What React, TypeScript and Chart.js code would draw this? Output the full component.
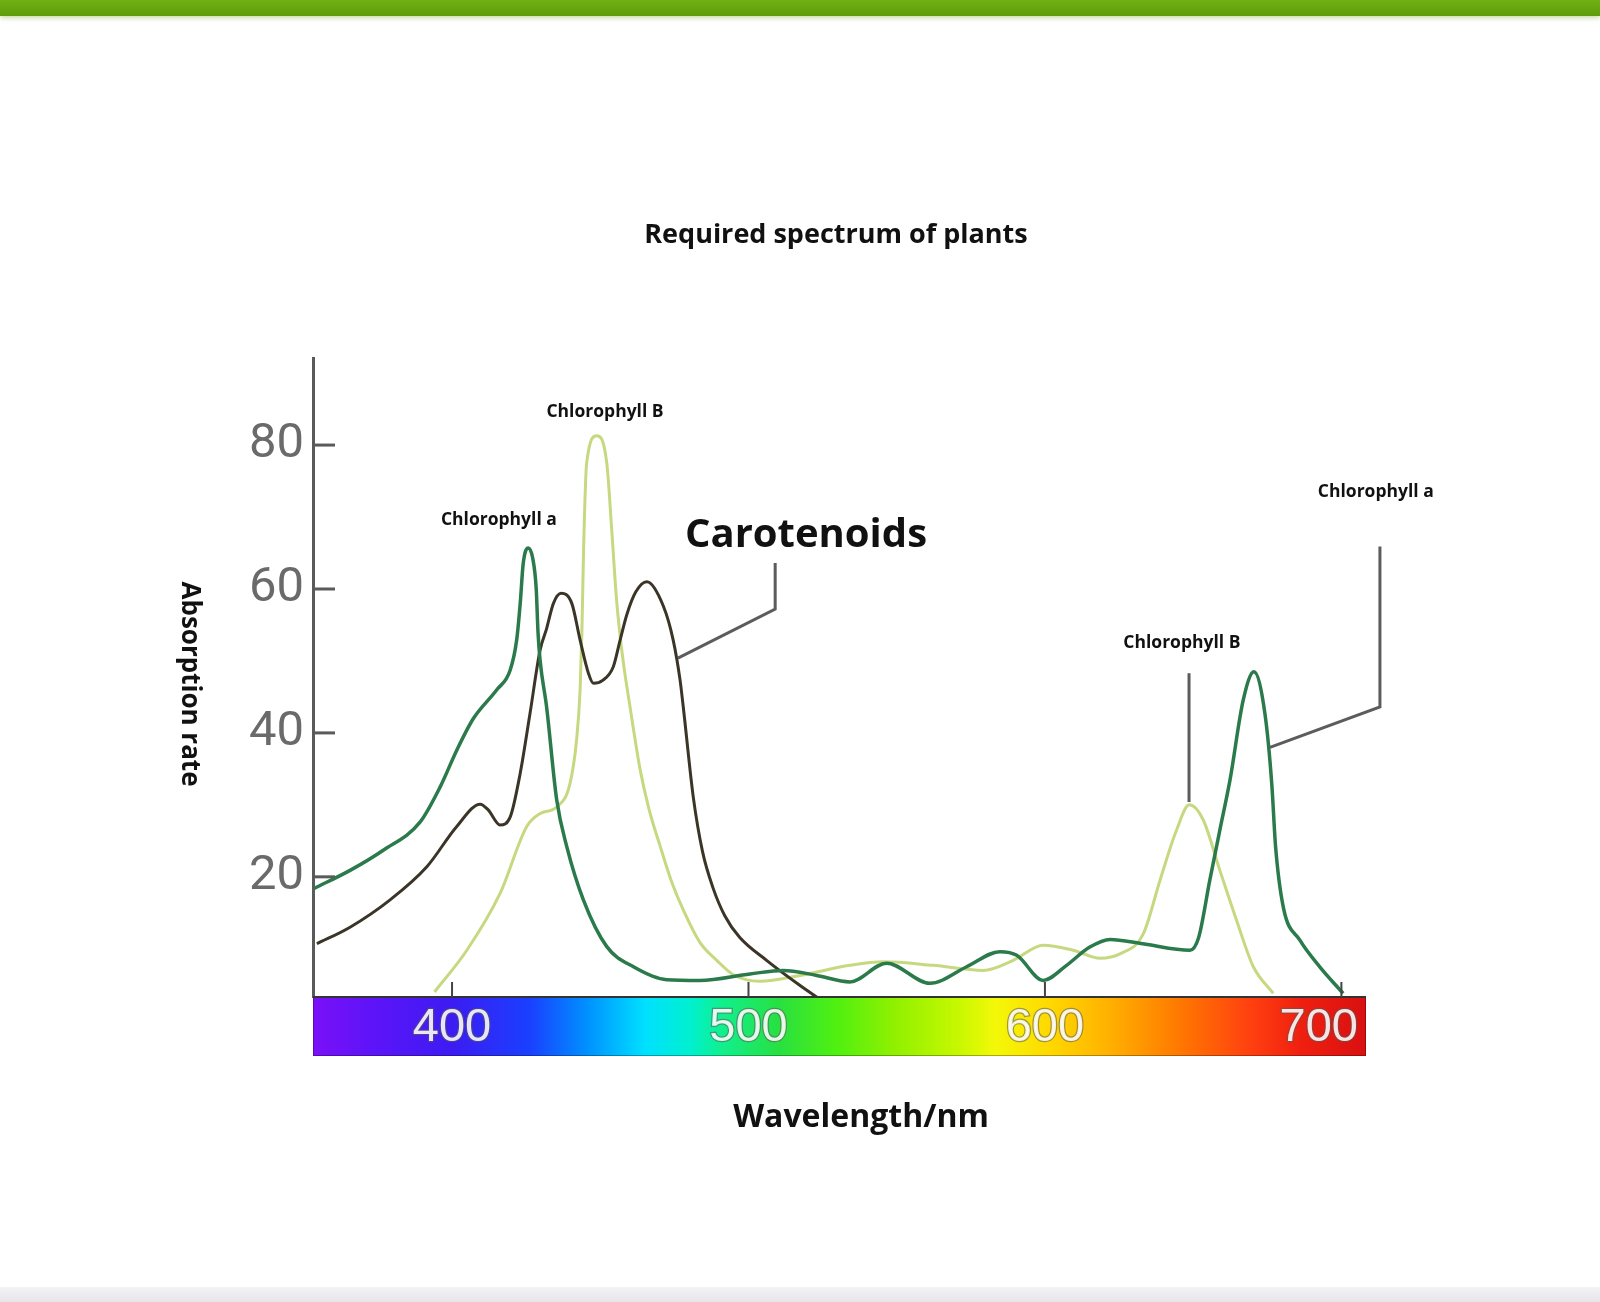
import React, { useEffect, useRef } from 'react'
import { Chart, registerables, ChartConfiguration, Plugin } from 'chart.js'

Chart.register(...registerables)

// Absorption curves: wavelength (nm) and absorption rate
const chlAWavelengths = [353.5, 365.6, 376.8, 389.2, 396.0, 401.6, 407.2, 415.1, 419.6, 421.8, 423.0, 424.0, 425.7, 427.2, 428.4, 429.0, 429.7, 431.9, 435.3, 438.7, 444.3, 452.2, 461.2, 472.4, 483.6, 500.5, 511.7, 523.0, 534.2, 546.6, 561.2, 573.6, 584.8, 590.5, 599.4, 607.3, 615.0, 622.0, 633.0, 648.9, 651.8, 655.6, 659.0, 662.4, 666.9, 670.5, 674.2, 676.5, 677.8, 680.4, 686.0, 692.7, 700.6]
const chlAValues = [18.4, 20.9, 23.7, 27.6, 32.5, 37.6, 42.0, 46.0, 48.7, 52.9, 58.0, 63.5, 65.7, 64.3, 60.0, 54.0, 50.1, 43.6, 30.7, 24.2, 16.8, 10.3, 7.5, 5.7, 5.6, 6.5, 7.0, 6.3, 5.4, 8.0, 5.2, 7.5, 9.6, 9.1, 5.6, 7.7, 10.2, 11.3, 10.7, 9.8, 11.5, 19.5, 26.5, 33.4, 44.6, 48.5, 42.7, 33.0, 24.2, 15.8, 11.2, 7.5, 3.8]

const carotWavelengths = [354.4, 365.6, 379.1, 391.5, 401.6, 409.5, 412.2, 416.2, 419.6, 423.0, 426.3, 429.7, 431.9, 434.2, 436.8, 440.4, 443.2, 446.0, 447.7, 450.8, 454.4, 456.7, 459.0, 462.0, 465.7, 471.3, 474.6, 476.9, 478.0, 481.4, 484.5, 488.0, 492.0, 497.0, 506.1, 517.4, 523.0]
const carotValues = [10.7, 13.0, 16.8, 21.4, 27.0, 30.1, 29.3, 27.2, 28.3, 34.4, 42.7, 51.5, 54.5, 58.0, 59.4, 58.0, 52.9, 48.3, 46.9, 47.3, 49.2, 52.9, 56.5, 59.6, 61.0, 57.6, 52.9, 47.4, 43.6, 31.0, 23.5, 18.5, 14.6, 11.6, 8.4, 4.9, 3.3]

const chlBWavelengths = [394.1, 405.0, 416.2, 425.2, 429.7, 435.3, 439.8, 442.0, 443.2, 443.8, 444.4, 445.4, 448.8, 452.2, 453.9, 455.5, 457.4, 460.2, 463.4, 466.5, 470.1, 474.0, 478.0, 483.6, 489.3, 494.9, 503.9, 517.4, 534.2, 545.5, 562.3, 579.2, 589.3, 599.4, 609.5, 618.6, 625.3, 633.2, 638.8, 644.4, 648.7, 653.4, 659.0, 664.6, 670.3, 677.0]
const chlBValues = [4.0, 9.8, 17.7, 27.0, 28.8, 29.7, 33.0, 39.0, 46.0, 54.0, 66.0, 77.5, 81.3, 77.5, 68.0, 58.5, 51.0, 43.2, 35.0, 29.3, 24.4, 19.4, 15.4, 10.9, 8.4, 6.4, 5.5, 6.3, 7.7, 8.2, 7.7, 7.0, 8.4, 10.5, 9.8, 8.7, 9.3, 12.1, 19.5, 26.5, 30.0, 27.9, 20.9, 14.0, 7.5, 3.8]

const seriesNames = ['Chlorophyll a', 'Carotenoids', 'Chlorophyll B']
const seriesColors = ['#2b7a4b', '#3b3528', '#c6d880']

const xTickValues = [400, 500, 600, 700]
const yTickValues = [20, 40, 60, 80]
const xRange = [353.1, 708.3]
const yRange = [3.3, 92.1]

// Callout texts, anchored in data units (wavelength, absorption)
const calloutTexts = ['Chlorophyll B', 'Chlorophyll a', 'Carotenoids', 'Chlorophyll B', 'Chlorophyll a']
const calloutAnchors = [[451.6, 83.9], [415.8, 68.9], [519.4, 65.9], [646.2, 51.8], [711.6, 72.8]]
const calloutSizes = [17.5, 17.5, 40, 17.5, 17.5]
const calloutLeaders = [
    [],
    [],
    [[509.0, 63.6], [509.0, 57.2], [476.2, 50.4]],
    [[648.6, 48.3], [648.6, 30.4]],
    [[713.0, 65.9], [713.0, 43.6], [675.9, 38.0]]
]

const spectrumStops: Array<[number, string]> = [
    [0, '#7a10f8'], [0.06, '#5c14f8'], [0.133, '#3c1cf2'], [0.206, '#1a40ff'], [0.26, '#0090ff'],
    [0.315, '#00e0ff'], [0.358, '#00f0d0'], [0.387, '#10f090'], [0.443, '#28e040'], [0.497, '#50f010'],
    [0.552, '#90f000'], [0.614, '#c8f800'], [0.648, '#f4f808'], [0.70, '#ffd800'], [0.757, '#ffb000'],
    [0.823, '#ff7800'], [0.89, '#ff4010'], [0.937, '#f02010'], [1, '#d81010']
]

const TEXT_FONT = '"Open Sans", "DejaVu Sans", sans-serif'
const CHART_TITLE = 'Required spectrum of plants'

const decorPlugin: Plugin<'line'> = {
    id: 'decor',
    afterDraw(chart) {
        const { ctx, chartArea } = chart
        const xs = chart.scales.x
        const ys = chart.scales.y
        const barTop = chartArea.bottom
        const barBottom = chartArea.bottom + xs.height
        ctx.save()

        // spectrum strip under the plot
        const grad = ctx.createLinearGradient(chartArea.left, 0, chartArea.right, 0)
        spectrumStops.forEach(([f, c]) => grad.addColorStop(f, c))
        ctx.fillStyle = grad
        ctx.fillRect(chartArea.left, barTop, chartArea.right - chartArea.left, barBottom - barTop)
        ctx.strokeStyle = 'rgba(0,0,0,0.3)'
        ctx.lineWidth = 1
        ctx.strokeRect(chartArea.left + 0.5, barTop + 0.5, chartArea.right - chartArea.left - 1, barBottom - barTop - 1)
        ctx.strokeStyle = '#333'
        ctx.lineWidth = 2
        ctx.beginPath()
        ctx.moveTo(chartArea.left, barTop)
        ctx.lineTo(chartArea.right, barTop)
        ctx.stroke()

        // x ticks and labels
        ctx.font = '47px "Liberation Sans", Arial, sans-serif'
        ctx.textAlign = 'center'
        ctx.textBaseline = 'middle'
        xTickValues.forEach(v => {
            const px = xs.getPixelForValue(v)
            ctx.strokeStyle = '#444'
            ctx.lineWidth = 2
            ctx.beginPath()
            ctx.moveTo(px, barTop)
            ctx.lineTo(px, barTop - 15)
            ctx.stroke()
            const label = String(v)
            const w = ctx.measureText(label).width
            const cx = Math.min(px, chartArea.right - 8 - w / 2)
            const cy = (barTop + barBottom) / 2 + 2
            ctx.lineWidth = 2.5
            ctx.strokeStyle = 'rgba(90,90,90,0.55)'
            ctx.strokeText(label, cx, cy)
            ctx.fillStyle = 'rgba(255,255,255,0.88)'
            ctx.fillText(label, cx, cy)
        })

        // y ticks pointing into the plot
        ctx.strokeStyle = '#5a5a5a'
        ctx.lineWidth = 3
        yTickValues.forEach(v => {
            const py = ys.getPixelForValue(v)
            ctx.beginPath()
            ctx.moveTo(chartArea.left, py)
            ctx.lineTo(chartArea.left + 22, py)
            ctx.stroke()
        })

        // callouts
        ctx.fillStyle = '#111'
        ctx.textAlign = 'center'
        ctx.textBaseline = 'alphabetic'
        calloutTexts.forEach((t, i) => {
            const [wx, wy] = calloutAnchors[i]
            ctx.font = `bold ${calloutSizes[i]}px ${TEXT_FONT}`
            ctx.fillText(t, xs.getPixelForValue(wx), ys.getPixelForValue(wy))
            const pts = calloutLeaders[i]
            if (pts.length) {
                ctx.strokeStyle = '#5c5c5c'
                ctx.lineWidth = 3
                ctx.beginPath()
                pts.forEach(([px, py], k) => {
                    const X = xs.getPixelForValue(px)
                    const Y = ys.getPixelForValue(py)
                    if (k === 0) ctx.moveTo(X, Y)
                    else ctx.lineTo(X, Y)
                })
                ctx.stroke()
            }
        })

        // chart title and axis titles
        ctx.fillStyle = '#111'
        ctx.font = `bold 27px ${TEXT_FONT}`
        ctx.fillText(CHART_TITLE, 836, 243)

        ctx.font = `bold 32px ${TEXT_FONT}`
        ctx.fillText('Wavelength/nm', 861, 1127)

        ctx.save()
        ctx.translate(182, 684)
        ctx.rotate(Math.PI / 2)
        ctx.font = `bold 26px ${TEXT_FONT}`
        ctx.fillText('Absorption rate', 0, 0)
        ctx.restore()

        ctx.restore()
    }
}

const SpectrumChart: React.FC = () => {
    const canvasRef = useRef<HTMLCanvasElement | null>(null)
    const chartRef = useRef<Chart<'line'> | null>(null)

    useEffect(() => {
        if (!canvasRef.current) return
        const waves = [chlAWavelengths, carotWavelengths, chlBWavelengths]
        const values = [chlAValues, carotValues, chlBValues]

        const config: ChartConfiguration<'line'> = {
            type: 'line',
            data: {
                datasets: seriesNames.map((name, i) => ({
                    label: name,
                    data: waves[i].map((w, k) => ({ x: w, y: values[i][k] })),
                    borderColor: seriesColors[i],
                    borderWidth: i === 0 ? 3.5 : 3,
                    pointRadius: 0,
                    fill: false,
                    cubicInterpolationMode: 'monotone' as const
                }))
            },
            options: {
                responsive: false,
                devicePixelRatio: 1,
                animation: false,
                layout: { padding: { left: 0, right: 234, top: 358, bottom: 246 } },
                plugins: {
                    legend: { display: false },
                    tooltip: { enabled: false },
                    title: { display: false }
                },
                scales: {
                    x: {
                        type: 'linear',
                        min: xRange[0],
                        max: xRange[1],
                        grid: { display: false, drawTicks: false },
                        border: { display: false },
                        ticks: { display: false },
                        afterBuildTicks: (scale) => { scale.ticks = xTickValues.map(v => ({ value: v })) },
                        afterFit: (scale) => { scale.height = 59 }
                    },
                    y: {
                        min: yRange[0],
                        max: yRange[1],
                        grid: { display: false, drawTicks: false },
                        border: { display: true, color: '#5a5a5a', width: 3 },
                        ticks: {
                            color: '#6a6a6a',
                            padding: 9,
                            font: { family: 'Roboto, "Liberation Sans", sans-serif', size: 49, weight: 'normal' }
                        },
                        afterBuildTicks: (scale) => { scale.ticks = yTickValues.map(v => ({ value: v })) },
                        afterFit: (scale) => { scale.width = 313 }
                    }
                }
            },
            plugins: [decorPlugin]
        }

        chartRef.current = new Chart(canvasRef.current, config)
        return () => {
            chartRef.current?.destroy()
        }
    }, [])

    return <canvas ref={canvasRef} width={1600} height={1302} style={{ position: 'absolute', left: 0, top: 0 }} />
}

export default function App() {
    return (
        <div style={{ position: 'absolute', left: 0, top: 0, width: 1600, height: 1302, background: '#fff', overflow: 'hidden' }}>
            <div style={{ position: 'absolute', left: 0, top: 0, width: 1600, height: 16, background: 'linear-gradient(#70b014, #5f9c0a)', boxShadow: '0 2px 5px rgba(100,150,0,0.35)' }} />
            <div style={{ position: 'absolute', left: 0, top: 1287, width: 1600, height: 15, background: 'linear-gradient(#f3f3f6, #e6e6ea)' }} />
            <SpectrumChart />
        </div>
    )
}
